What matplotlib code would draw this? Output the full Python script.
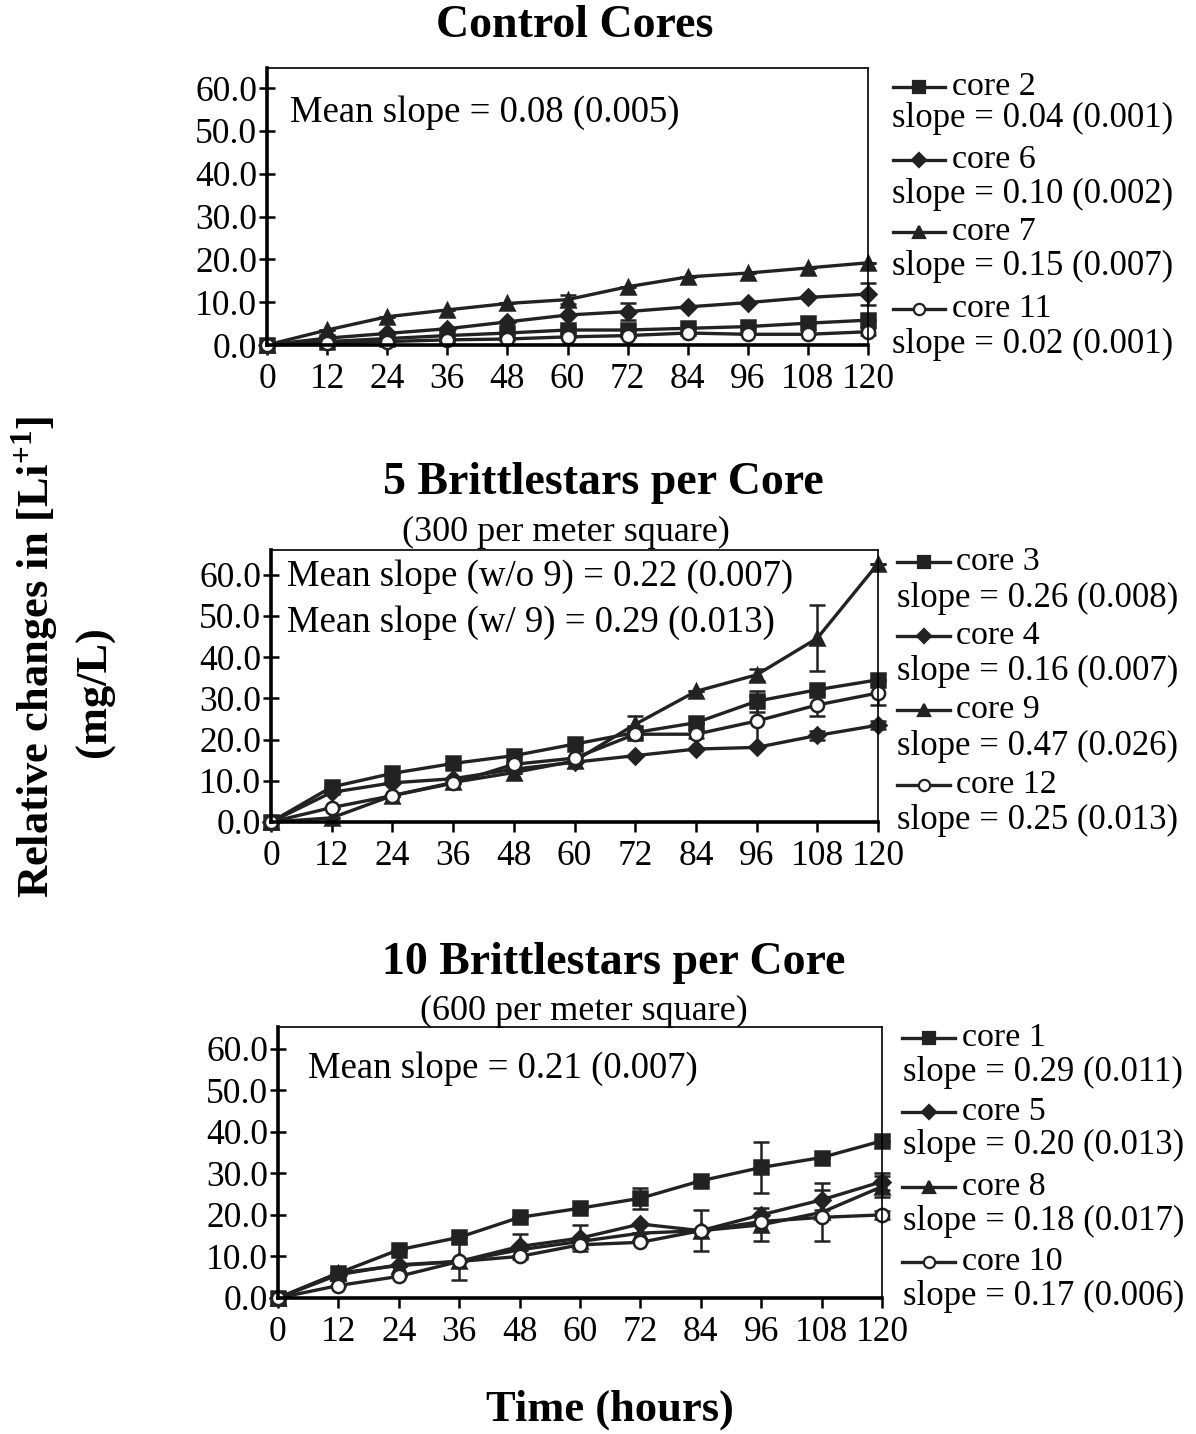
import matplotlib
matplotlib.use('Agg')
import matplotlib.pyplot as plt
from matplotlib.lines import Line2D

plt.rcParams['font.family'] = ['Liberation Serif', 'DejaVu Serif']
plt.rcParams['mathtext.fontset'] = 'custom'
plt.rcParams['mathtext.rm'] = 'Liberation Serif'
plt.rcParams['mathtext.bf'] = 'Liberation Serif:bold'

hours = [0, 12, 24, 36, 48, 60, 72, 84, 96, 108, 120]

# control cores
core2 = [0, 0.8, 1.5, 2.2, 2.8, 3.5, 3.5, 3.9, 4.3, 5.1, 5.8]
core6 = [0, 1.6, 2.7, 3.8, 5.4, 7.0, 7.8, 8.9, 9.9, 11.1, 11.9]
core7 = [0, 3.5, 6.6, 8.2, 9.7, 10.6, 13.6, 15.9, 16.8, 18.0, 19.2]
core11 = [0, 0.4, 0.8, 1.2, 1.4, 1.9, 2.2, 2.8, 2.5, 2.5, 3.1]
err2 = [0, 0, 0, 0, 0, 0.8, 0, 0, 0, 0, 0]
err6 = [0, 0, 0, 0, 0, 0, 2.0, 0, 0, 0, 2.5]
err7 = [0, 0, 0, 0, 0, 1.0, 0, 0, 0, 0, 0]
err11 = [0, 0, 0, 0, 0, 0, 0, 0, 0, 0, 0.8]

# 5 brittlestars per core
core3 = [0, 8.5, 11.8, 14.2, 16.1, 18.9, 21.7, 24.1, 29.3, 32.1, 34.5]
core4 = [0, 7.2, 9.5, 10.5, 12.8, 14.5, 16.1, 17.7, 18.1, 21.0, 23.5]
core9 = [0, 1.0, 6.4, 9.6, 12.0, 14.8, 23.7, 31.7, 35.7, 44.6, 62.7]
core12 = [0, 3.5, 6.4, 9.4, 14.0, 15.5, 21.3, 21.3, 24.5, 28.4, 31.3]
err3 = [0, 0, 0, 0, 0, 0, 0, 0, 2.5, 0, 0]
err4 = [0, 0, 0, 0, 0, 0, 0, 0, 0, 1.0, 1.0]
err9 = [0, 0, 0, 0, 0, 0, 2.0, 0, 1.5, 8.0, 0]
err12 = [0, 0, 0, 0, 0, 0, 0, 1.0, 6.0, 2.6, 3.0]

# 10 brittlestars per core
core1 = [0, 6.0, 11.6, 14.6, 19.4, 21.6, 24.0, 28.2, 31.4, 33.8, 37.8]
core5 = [0, 5.6, 8.0, 8.8, 12.4, 14.4, 17.8, 16.2, 20.0, 23.6, 28.0]
core8 = [0, 6.0, 7.8, 8.8, 11.6, 13.6, 15.6, 16.2, 17.6, 20.6, 26.8]
core10 = [0, 3.0, 5.2, 8.8, 10.0, 12.8, 13.4, 16.2, 18.4, 19.4, 20.0]
err1 = [0, 0, 0, 0, 0, 0, 2.5, 0, 6.2, 0, 0]
err5 = [0, 0, 0, 4.5, 3.0, 3.2, 0, 5.0, 0, 2.5, 2.0]
err8 = [0, 0, 0, 0, 0, 0, 0, 0, 4.0, 7.0, 2.5]
err10 = [0, 0, 0, 0, 0, 0, 0, 0, 0, 0, 1.0]

panels = [
    dict(title='Control Cores', sub=None,
         names=['core 2', 'core 6', 'core 7', 'core 11'],
         slopes=['slope = 0.04 (0.001)', 'slope = 0.10 (0.002)',
                 'slope = 0.15 (0.007)', 'slope = 0.02 (0.001)'],
         data=[core2, core6, core7, core11], errs=[err2, err6, err7, err11],
         notes=['Mean slope = 0.08 (0.005)']),
    dict(title='5 Brittlestars per Core', sub='(300 per meter square)',
         names=['core 3', 'core 4', 'core 9', 'core 12'],
         slopes=['slope = 0.26 (0.008)', 'slope = 0.16 (0.007)',
                 'slope = 0.47 (0.026)', 'slope = 0.25 (0.013)'],
         data=[core3, core4, core9, core12], errs=[err3, err4, err9, err12],
         notes=['Mean slope (w/o 9) = 0.22 (0.007)', 'Mean slope (w/ 9) = 0.29 (0.013)']),
    dict(title='10 Brittlestars per Core', sub='(600 per meter square)',
         names=['core 1', 'core 5', 'core 8', 'core 10'],
         slopes=['slope = 0.29 (0.011)', 'slope = 0.20 (0.013)',
                 'slope = 0.18 (0.017)', 'slope = 0.17 (0.006)'],
         data=[core1, core5, core8, core10], errs=[err1, err5, err8, err10],
         notes=['Mean slope = 0.21 (0.007)']),
]

# marker styles: square, diamond, triangle, open circle
styles = [dict(marker='s', ms=10.5, mfc='#222222'),
          dict(marker='D', ms=8.5, mfc='#222222'),
          dict(marker='^', ms=10.5, mfc='#222222'),
          dict(marker='o', ms=9.5, mfc='white')]

W, H = 1196, 1434
# axes boxes in pixels: left, right, top, bottom(=0 line), ymax
boxes = [(267, 868, 68, 345, 64.7),
         (271, 878, 550, 822, 66.0),
         (278, 882, 1027, 1298, 65.2)]
title_pos = [(575, 26), (603, 483), (614, 963)]
sub_pos = [None, (566, 532), (584, 1011)]
note_pos = [[(290, 113)], [(287, 577), (287, 623)], [(308, 1069)]]
leg_x = [(893, 945, 952, 892), (897, 950, 956, 897), (902, 955, 962, 903)]
leg_y = [[(87, 118), (160, 194), (232, 266), (309, 344)],
         [(562, 598), (636, 671), (710, 746), (785, 820)],
         [(1038, 1072), (1112, 1145), (1187, 1221), (1262, 1296)]]

fig = plt.figure(figsize=(W / 100, H / 100), dpi=100)
fs = 25.5

for i, p in enumerate(panels):
    l, r, t, b, ymax = boxes[i]
    ax = fig.add_axes([l / W, 1 - b / H, (r - l) / W, (b - t) / H])
    for vals, err, st in zip(p['data'], p['errs'], styles):
        ax.errorbar(hours, vals, yerr=err, color='#222222', lw=2.4,
                    marker=st['marker'], ms=st['ms'], mfc=st['mfc'], mec='#222222',
                    mew=1.8, capsize=6, elinewidth=1.8, capthick=1.8, clip_on=False)
    ax.set_xlim(0, 120)
    ax.set_ylim(0, ymax)
    ax.set_xticks(hours)
    ax.set_yticks([0, 10, 20, 30, 40, 50, 60])
    ax.set_yticklabels(['%.1f' % v for v in [0, 10, 20, 30, 40, 50, 60]])
    ax.tick_params(axis='y', direction='inout', length=12, width=1.8, labelsize=fs, pad=1)
    ax.tick_params(axis='x', direction='out', length=7, width=1.8, labelsize=fs, pad=6)
    for s in ['left', 'bottom']:
        ax.spines[s].set_linewidth(2.6)
    for s in ['top', 'right']:
        ax.spines[s].set_linewidth(1.2)
    for k, note in enumerate(p['notes']):
        nx, ny = note_pos[i][k]
        fig.text(nx / W, 1 - ny / H, note, fontsize=26.5, va='center', ha='left')

    tx, ty = title_pos[i]
    fig.text(tx / W, 1 - ty / H, p['title'], fontsize=33, fontweight='bold',
             ha='center', va='center')
    if p['sub']:
        sx, sy = sub_pos[i]
        fig.text(sx / W, 1 - sy / H, p['sub'], fontsize=26, ha='center', va='center')

    # legend drawn beside the box
    x0, x1, xt, xs = leg_x[i]
    for k in range(4):
        yl, ys = leg_y[i][k]
        st = styles[k]
        yy = 1 - yl / H
        fig.add_artist(Line2D([x0 / W, (x0 + x1) / 2 / W, x1 / W], [yy, yy, yy],
                              color='#222222', lw=2.4, marker=st['marker'],
                              markevery=[1], ms=st['ms'] * 0.85, mfc=st['mfc'],
                              mec='#222222', mew=1.6, transform=fig.transFigure))
        fig.text(xt / W, yy, p['names'][k], fontsize=24.5, va='center', ha='left')
        fig.text(xs / W, 1 - ys / H, p['slopes'][k], fontsize=25, va='center', ha='left')

fig.text(35 / W, 1 - 657 / H, r'Relative changes in [Li$^{\mathbf{+1}}$]', fontsize=32,
         fontweight='bold', rotation=90, ha='center', va='center')
fig.text(95 / W, 1 - 692 / H, '(mg/L)', fontsize=32, fontweight='bold',
         rotation=90, ha='center', va='center')
fig.text(610 / W, 1 - 1410 / H, 'Time (hours)', fontsize=32, fontweight='bold',
         ha='center', va='center')

fig.savefig('out.png', dpi=100, facecolor='white')
